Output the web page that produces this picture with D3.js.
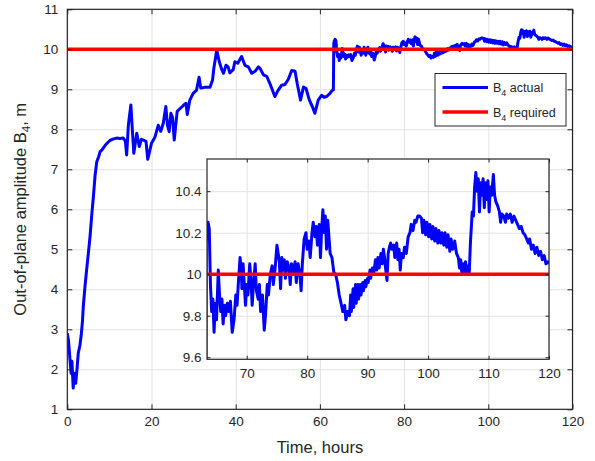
<!DOCTYPE html>
<html>
<head>
<meta charset="utf-8">
<script src="https://cdn.jsdelivr.net/npm/d3@7"></script>
<style>
body { margin: 0; background: #fff; }
text { font-family: "Liberation Sans", Arial, sans-serif; fill: #262626; }
</style>
</head>
<body>
<div id="chart"></div>
<script>
// time in hours and B4 amplitude in m
var hours = [0, 0.3, 0.6, 0.9, 1.1, 1.4, 1.7, 2.0, 2.3, 2.6, 3.0, 3.3, 3.6, 3.8, 4.2, 4.6, 5.0, 5.4, 5.8, 6.2,
	6.6, 7.0, 7.4, 7.8, 8.2, 9.0, 10.1, 11.0, 11.7, 12.5, 13.3, 13.8, 14.1, 14.5, 15.1, 15.5, 15.8, 16.5, 17.1, 17.6,
	18.1, 18.7, 19.1, 20.0, 20.8, 21.6, 22.2, 22.8, 23.4, 23.8, 24.2, 24.6, 25.0, 25.4, 26.1, 26.8, 27.6, 28.2, 28.5, 29.1,
	29.9, 30.7, 31.3, 31.7, 32.7, 33.9, 34.5, 34.8, 35.5, 36.1, 36.7, 37.1, 37.7, 38.2, 38.6, 39.4, 39.8, 40.5, 41.4, 42.2,
	43.0, 43.8, 44.6, 45.4, 45.8, 46.6, 47.4, 48.1, 49.3, 50.1, 50.9, 51.7, 52.5, 53.3, 54.1, 54.6, 55.4, 56.1, 56.7, 57.5,
	58.2, 58.8, 59.6, 60.4, 61.0, 61.6, 62.4, 63.0, 63.2, 63.3,
	63.4, 63.6, 63.8, 64.0, 64.2, 64.4, 64.6, 64.8, 65.0, 65.3, 65.5, 65.7, 65.9, 66.1, 66.3, 66.5, 66.8, 67.0, 67.3, 67.6,
	67.9, 68.2, 68.4, 68.6, 68.9, 69.1, 69.2, 69.4, 69.6, 69.8, 70.0, 70.2, 70.5, 70.7, 70.9, 71.1, 71.4, 71.6, 71.9, 72.1,
	72.3, 72.6, 72.9, 73.1, 73.4, 73.6, 73.9, 74.2, 74.4, 74.7, 75.0, 75.2, 75.4, 75.6, 75.8, 76.0, 76.2, 76.4, 76.7, 77.0,
	77.2, 77.4, 77.7, 78.0, 78.2, 78.5, 78.8, 79.0, 79.2, 79.5, 79.8, 80.0, 80.3, 80.5, 80.8, 81.0, 81.3, 81.5, 81.7, 82.0,
	82.2, 82.4, 82.6, 82.8, 83.0, 83.2, 83.4, 83.6, 83.8, 84.1, 84.4, 84.7, 85.0, 85.3, 85.6, 85.9, 86.2, 86.4, 86.7, 87.0,
	87.2, 87.3, 87.6, 87.7, 88.0, 88.1, 88.4, 88.5, 88.8, 88.9, 89.2, 89.3, 89.6, 89.7, 90.0, 90.1, 90.4, 90.5, 90.8, 91.0,
	91.3, 91.5, 91.7, 91.9, 92.2, 92.4, 92.6, 92.8, 93.0, 93.2, 93.4, 93.6, 93.8, 94.0, 94.3, 94.5, 94.8, 95.0, 95.2, 95.4,
	95.6, 95.9, 96.1, 96.4, 96.7, 97.0, 97.2, 97.5, 97.8, 98.0, 98.3, 98.6, 98.9, 99.1, 99.3, 99.6, 99.8, 100.1, 100.3, 100.6,
	100.8, 101.1, 101.3, 101.6, 101.8, 102.1, 102.3, 102.6, 102.8, 103.1, 103.3, 103.6, 103.8, 104.1, 104.4, 104.7, 105.0, 105.2, 105.4, 105.6,
	105.8, 106.0, 106.2, 106.4, 106.6, 106.8, 107.0, 107.3, 107.5, 107.7, 107.9, 108.1, 108.3, 108.5, 108.7, 108.9, 109.1, 109.3, 109.5, 109.7,
	109.9, 110.1, 110.3, 110.5, 110.8, 111.0, 111.2, 111.5, 111.8, 112.0, 112.2, 112.5, 112.8, 113.0, 113.3, 113.6, 113.9, 114.2, 114.5, 114.8,
	115.1, 115.4, 115.7, 116.0, 116.3, 116.6, 116.8, 117.1, 117.4, 117.7, 118.0, 118.3, 118.6, 118.9, 119.2, 119.5, 119.8, 120.0];
var amplitude = [2.9, 2.7, 2.3, 1.9, 2.2, 1.53, 1.9, 1.65, 2.0, 2.4, 2.6, 2.85, 3.2, 3.57, 4.07, 4.5, 4.9, 5.32, 5.85, 6.32,
	6.85, 7.19, 7.3, 7.44, 7.48, 7.6, 7.72, 7.76, 7.78, 7.77, 7.78, 7.7, 7.36, 8.1, 8.61, 7.9, 7.4, 7.9, 7.57, 7.75,
	7.73, 7.7, 7.25, 7.65, 7.8, 8.1, 7.95, 8.15, 8.57, 8.1, 7.94, 8.4, 8.3, 7.73, 8.45, 8.52, 8.6, 8.65, 8.37, 8.73,
	8.9, 8.98, 9.3, 9.03, 9.05, 9.05, 9.23, 9.52, 9.98, 9.69, 9.49, 9.4, 9.6, 9.56, 9.41, 9.49, 9.69, 9.65, 9.82, 9.6,
	9.56, 9.4, 9.45, 9.56, 9.52, 9.36, 9.32, 9.15, 8.82, 8.98, 9.1, 9.12, 9.25, 9.47, 9.45, 9.15, 8.73, 9.06, 9.02, 8.73,
	8.57, 8.4, 8.73, 8.85, 8.8, 8.82, 8.9, 8.98, 8.98, 10.15,
	10.20, 10.25, 10.22, 9.95, 9.82, 9.88, 9.72, 9.86, 9.78, 10.02, 9.90, 9.82, 9.88, 9.76, 9.85, 9.80, 9.86, 9.82, 9.87, 9.72,
	9.78, 9.90, 9.85, 9.95, 10.08, 10.02, 9.93, 10.05, 9.95, 9.85, 9.95, 9.90, 10.05, 9.97, 9.85, 9.95, 10.05, 9.92, 9.88, 9.95,
	9.82, 9.90, 9.73, 9.80, 9.95, 9.90, 10.00, 10.04, 9.95, 10.03, 10.14, 10.10, 10.06, 9.93, 10.08, 10.02, 10.07, 9.98, 10.06, 10.03,
	9.95, 10.05, 10.01, 10.06, 9.96, 10.05, 10.00, 9.92, 10.05, 10.17, 10.20, 10.12, 10.16, 10.08, 10.20, 10.25, 10.18, 10.23, 10.14, 10.24,
	10.08, 10.22, 10.31, 10.20, 10.28, 10.12, 10.26, 10.18, 10.10, 10.08, 10.01, 10.00, 9.96, 9.90, 9.86, 9.82, 9.85, 9.78, 9.82, 9.80,
	9.90, 9.82, 9.93, 9.84, 9.95, 9.86, 9.95, 9.88, 9.95, 9.90, 9.96, 9.92, 9.97, 9.94, 9.98, 9.96, 10.02, 9.98, 10.03, 10.00,
	10.07, 10.02, 10.08, 10.03, 10.10, 10.05, 10.12, 10.08, 10.02, 9.97, 10.10, 10.13, 10.15, 10.12, 10.14, 10.08, 10.15, 10.07, 10.12, 10.02,
	10.10, 10.08, 10.13, 10.10, 10.18, 10.20, 10.24, 10.21, 10.26, 10.25, 10.28, 10.28, 10.27, 10.20, 10.26, 10.19, 10.25, 10.18, 10.24, 10.17,
	10.23, 10.16, 10.22, 10.15, 10.21, 10.15, 10.20, 10.14, 10.20, 10.13, 10.19, 10.11, 10.17, 10.12, 10.16, 10.10, 10.08, 10.03, 10.07, 10.00,
	10.05, 10.00, 10.06, 10.00, 10.04, 10.00, 10.15, 10.30, 10.28, 10.42, 10.49, 10.40, 10.46, 10.30, 10.44, 10.38, 10.46, 10.32, 10.44, 10.36,
	10.45, 10.30, 10.42, 10.38, 10.48, 10.38, 10.35, 10.33, 10.30, 10.25, 10.29, 10.28, 10.25, 10.29, 10.27, 10.29, 10.25, 10.28, 10.26, 10.24,
	10.22, 10.23, 10.20, 10.19, 10.17, 10.15, 10.17, 10.12, 10.14, 10.10, 10.13, 10.09, 10.11, 10.07, 10.09, 10.05, 10.06, 10.05];
var requiredB4 = 10;

var xTicks = [0, 20, 40, 60, 80, 100, 120];
var yTicks = [1, 2, 3, 4, 5, 6, 7, 8, 9, 10, 11];
var insetXTicks = [70, 80, 90, 100, 110, 120];
var insetYTicks = [9.6, 9.8, 10, 10.2, 10.4];
var legendLabels = ['actual', 'required'];

var width = 595,
	height = 461;

var svg = d3.select('#chart').append('svg')
	.attr('width', width)
	.attr('height', height)
	.style('background', '#fff');

var data = hours.map(function(h, i) { return { t: h, v: amplitude[i] }; });

var blue = '#0000ff',
	red = '#ff0000',
	gridColor = '#e3e3e3',
	boxColor = '#262626',
	fmt = d3.format('~g');

// draws one set of axes: grid, curve, requirement line, box and ticks
function drawPanel(id, x, y, xt, yt, o) {
	var x0 = x.range()[0], x1 = x.range()[1],
		y0 = y.range()[1], y1 = y.range()[0];
	var g = svg.append('g').attr('id', id);

	g.append('rect')
		.attr('x', x0).attr('y', y0)
		.attr('width', x1 - x0).attr('height', y1 - y0)
		.attr('fill', '#fff');

	// grid
	var gx = g.append('g').attr('transform', 'translate(0,' + y1 + ')')
		.call(d3.axisBottom(x).tickValues(xt).tickSize(-(y1 - y0)).tickFormat(''));
	var gy = g.append('g').attr('transform', 'translate(' + x0 + ',0)')
		.call(d3.axisLeft(y).tickValues(yt).tickSize(-(x1 - x0)).tickFormat(''));
	[gx, gy].forEach(function(s) {
		s.select('.domain').remove();
		s.selectAll('line').attr('stroke', gridColor).attr('stroke-width', 1);
	});

	g.append('clipPath').attr('id', id + '-clip')
		.append('rect')
		.attr('x', x0).attr('y', y0)
		.attr('width', x1 - x0).attr('height', y1 - y0);

	var line = d3.line()
		.x(function(d) { return x(d.t); })
		.y(function(d) { return y(d.v); });

	var plot = g.append('g').attr('clip-path', 'url(#' + id + '-clip)');
	plot.append('path')
		.attr('d', line(data))
		.attr('fill', 'none')
		.attr('stroke', blue)
		.attr('stroke-width', 3)
		.attr('stroke-linejoin', 'round');
	plot.append('line')
		.attr('x1', x0).attr('x2', x1)
		.attr('y1', y(requiredB4)).attr('y2', y(requiredB4))
		.attr('stroke', red)
		.attr('stroke-width', 3.5);

	// ticks inward on all four sides
	var axes = [
		g.append('g').attr('transform', 'translate(0,' + y1 + ')')
			.call(d3.axisBottom(x).tickValues(xt).tickSize(-o.tick).tickPadding(o.padX).tickFormat(fmt)),
		g.append('g').attr('transform', 'translate(0,' + y0 + ')')
			.call(d3.axisTop(x).tickValues(xt).tickSize(-o.tick).tickFormat('')),
		g.append('g').attr('transform', 'translate(' + x0 + ',0)')
			.call(d3.axisLeft(y).tickValues(yt).tickSize(-o.tick).tickPadding(o.padY).tickFormat(fmt)),
		g.append('g').attr('transform', 'translate(' + x1 + ',0)')
			.call(d3.axisRight(y).tickValues(yt).tickSize(-o.tick).tickFormat(''))
	];
	axes.forEach(function(a) {
		a.select('.domain').remove();
		a.selectAll('line').attr('stroke', boxColor).attr('stroke-width', 1);
		a.selectAll('text')
			.attr('font-family', '"Liberation Sans", Arial, sans-serif')
			.attr('font-size', o.font)
			.attr('fill', boxColor);
	});

	g.append('rect')
		.attr('x', x0).attr('y', y0)
		.attr('width', x1 - x0).attr('height', y1 - y0)
		.attr('fill', 'none')
		.attr('stroke', boxColor)
		.attr('stroke-width', 1.2);
	return g;
}

var xScale = d3.scaleLinear().domain([0, 120]).range([67.3, 572.5]);
var yScale = d3.scaleLinear().domain([1, 11]).range([409.3, 9.3]);
drawPanel('main', xScale, yScale, xTicks, yTicks, { tick: 5, padX: 7.5, padY: 9, font: '13.5px' });

// legend
var legend = svg.append('g').attr('id', 'legend');
legend.append('rect')
	.attr('x', 435).attr('y', 73.5)
	.attr('width', 131).attr('height', 52.5)
	.attr('fill', '#fff')
	.attr('stroke', boxColor)
	.attr('stroke-width', 1);
[blue, red].forEach(function(c, i) {
	var yy = 87.5 + i * 24.5;
	legend.append('line')
		.attr('x1', 442.5).attr('x2', 488)
		.attr('y1', yy).attr('y2', yy)
		.attr('stroke', c)
		.attr('stroke-width', i ? 3.5 : 3);
	var t = legend.append('text')
		.attr('x', 493).attr('y', yy + 4.5)
		.attr('font-size', '12.5px');
	t.append('tspan').text('B');
	t.append('tspan').attr('font-size', '9px').attr('dy', 4).text('4');
	t.append('tspan').attr('dy', -4).text(' ' + legendLabels[i]);
});

// axis titles
svg.append('text')
	.attr('x', (xScale.range()[0] + xScale.range()[1]) / 2)
	.attr('y', 453)
	.attr('text-anchor', 'middle')
	.attr('font-size', '16.5px')
	.text('Time, hours');

var yl = svg.append('text')
	.attr('transform', 'translate(26,' + (yScale.range()[0] + yScale.range()[1]) / 2 + ') rotate(-90)')
	.attr('text-anchor', 'middle')
	.attr('font-size', '16.5px');
yl.append('tspan').text('Out-of-plane amplitude B');
yl.append('tspan').attr('font-size', '11.5px').attr('dy', 4).text('4');
yl.append('tspan').attr('dy', -4).text(', m');

// inset zoom on the last part of the run
var insetX = d3.scaleLinear().domain([63.43, 120]).range([207, 549]);
var insetY = d3.scaleLinear().domain([9.59, 10.555]).range([359.3, 159]);
drawPanel('inset', insetX, insetY, insetXTicks, insetYTicks, { tick: 3.5, padX: 9.5, padY: 5.5, font: '13.5px' });
</script>
</body>
</html>
